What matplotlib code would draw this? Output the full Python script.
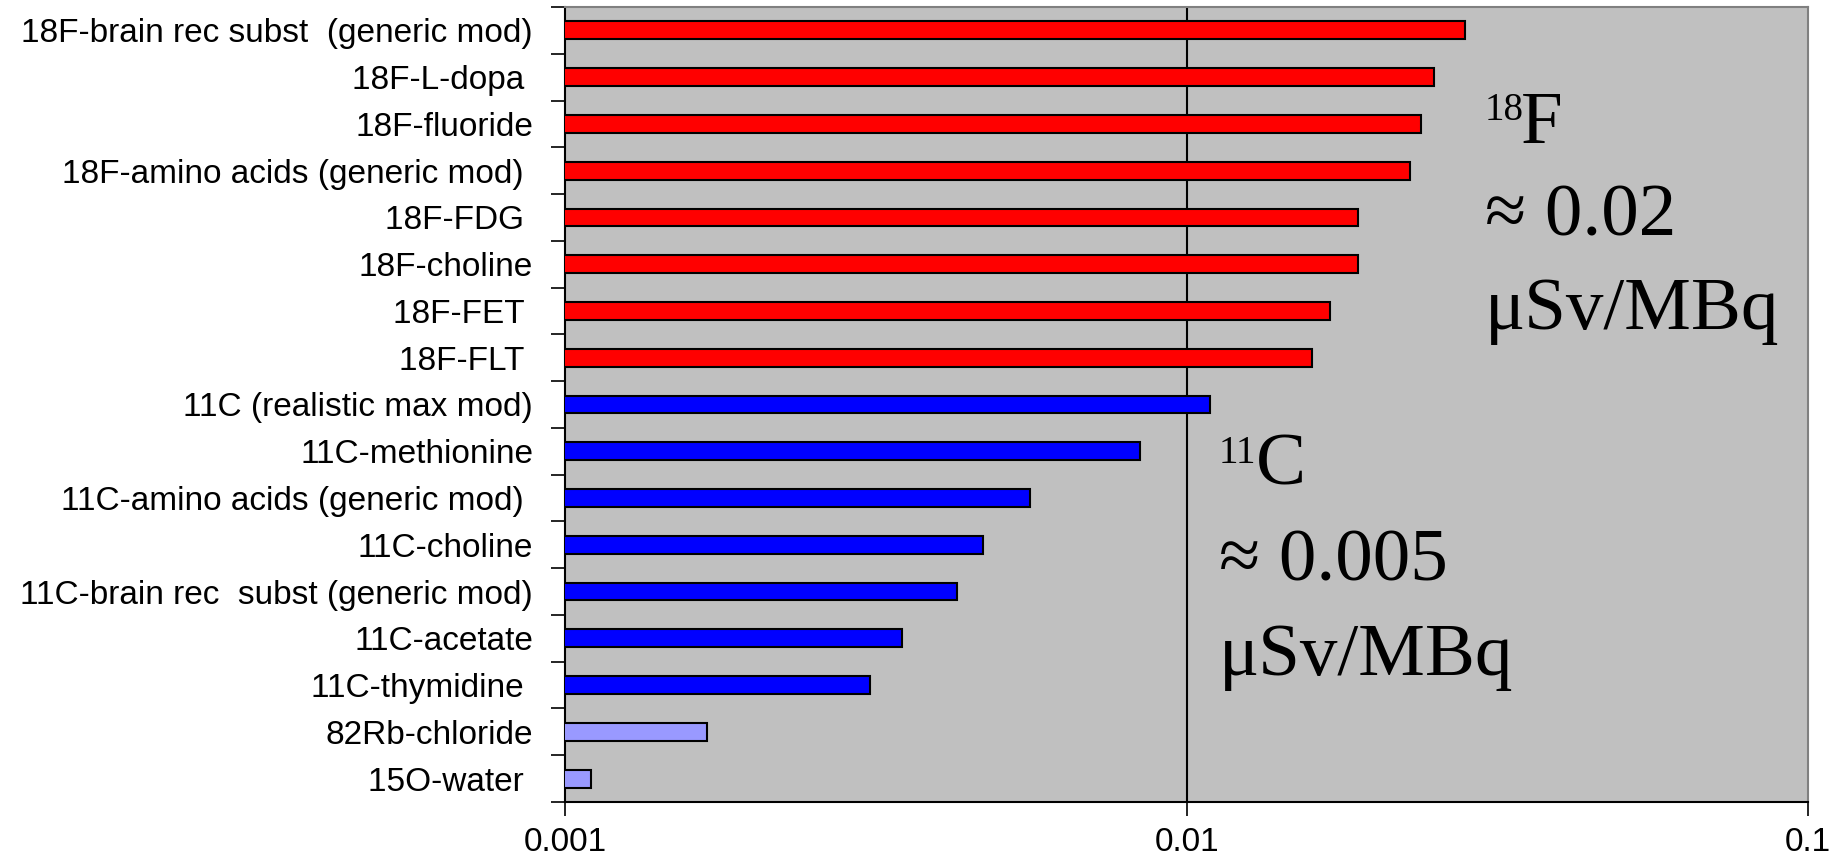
import matplotlib
matplotlib.use("Agg")
import matplotlib.pyplot as plt
import numpy as np

categories = [
    "18F-brain rec subst  (generic mod)",
    "18F-L-dopa ",
    "18F-fluoride",
    "18F-amino acids (generic mod) ",
    "18F-FDG ",
    "18F-choline",
    "18F-FET ",
    "18F-FLT ",
    "11C (realistic max mod)",
    "11C-methionine",
    "11C-amino acids (generic mod) ",
    "11C-choline",
    "11C-brain rec  subst (generic mod)",
    "11C-acetate",
    "11C-thymidine ",
    "82Rb-chloride",
    "15O-water ",
]
values = [0.0280, 0.0250, 0.0238, 0.0229, 0.0189, 0.0189, 0.0170, 0.0159,
          0.0109, 0.0084, 0.0056, 0.0047, 0.00427, 0.00348, 0.0031, 0.00169, 0.0011]
groups = ["F"] * 8 + ["C"] * 7 + ["O"] * 2
group_colors = {"F": "#FF0000", "C": "#0000FF", "O": "#9999FF"}
xticks = [0.001, 0.01, 0.1]
xticklabels = ["0.001", "0.01", "0.1"]

fig = plt.figure(figsize=(18.41, 8.61), dpi=100)
ax = fig.add_axes([0.3069, 0.0685, 0.6753, 0.9234])
ax.set_facecolor("#C0C0C0")

y = np.arange(len(categories))
ax.barh(y, values, height=0.38, left=0.0,
        color=[group_colors[g] for g in groups],
        edgecolor="black", linewidth=1.5, zorder=3)

ax.set_xscale("log")
ax.set_xlim(0.001, 0.1)
ax.set_ylim(len(categories) - 0.5, -0.5)

ax.set_xticks(xticks)
ax.set_xticklabels(xticklabels, fontsize=24, family="Liberation Sans")
ax.xaxis.set_minor_locator(matplotlib.ticker.NullLocator())
ax.tick_params(axis="x", which="major", length=10, width=1.2, direction="out", pad=8)

ax.set_yticks(y)
ax.set_yticklabels(categories, fontsize=24, family="Liberation Sans")
ax.tick_params(axis="y", which="major", length=0, pad=23)
ax.set_yticks(np.arange(-0.5, len(categories), 1.0), minor=True)
ax.tick_params(axis="y", which="minor", length=10, width=1.2, direction="out")

ax.axvline(0.01, color="black", linewidth=1.5, zorder=1)

for s in ["left", "bottom"]:
    ax.spines[s].set_color("black")
    ax.spines[s].set_linewidth(1.5)
for s in ["top", "right"]:
    ax.spines[s].set_color("#808080")
    ax.spines[s].set_linewidth(1.5)

serif = "Liberation Serif"
big = 54
small = 28
tr = ax.transAxes
# 18F annotation
ax.text(0.740, 0.858, "18", fontsize=small, family=serif, transform=tr, ha="left", va="baseline")
ax.text(0.769, 0.829, "F", fontsize=big, family=serif, transform=tr, ha="left", va="baseline")
ax.text(0.740, 0.713, "\u2248 0.02", fontsize=big, family=serif, transform=tr, ha="left", va="baseline")
ax.text(0.740, 0.595, "\u03bcSv/MBq", fontsize=big, family=serif, transform=tr, ha="left", va="baseline")
# 11C annotation
ax.text(0.526, 0.427, "11", fontsize=small, family=serif, transform=tr, ha="left", va="baseline")
ax.text(0.556, 0.400, "C", fontsize=big, family=serif, transform=tr, ha="left", va="baseline")
ax.text(0.526, 0.278, "\u2248 0.005", fontsize=big, family=serif, transform=tr, ha="left", va="baseline")
ax.text(0.526, 0.160, "\u03bcSv/MBq", fontsize=big, family=serif, transform=tr, ha="left", va="baseline")

fig.savefig("out.png", dpi=100, facecolor="white")
